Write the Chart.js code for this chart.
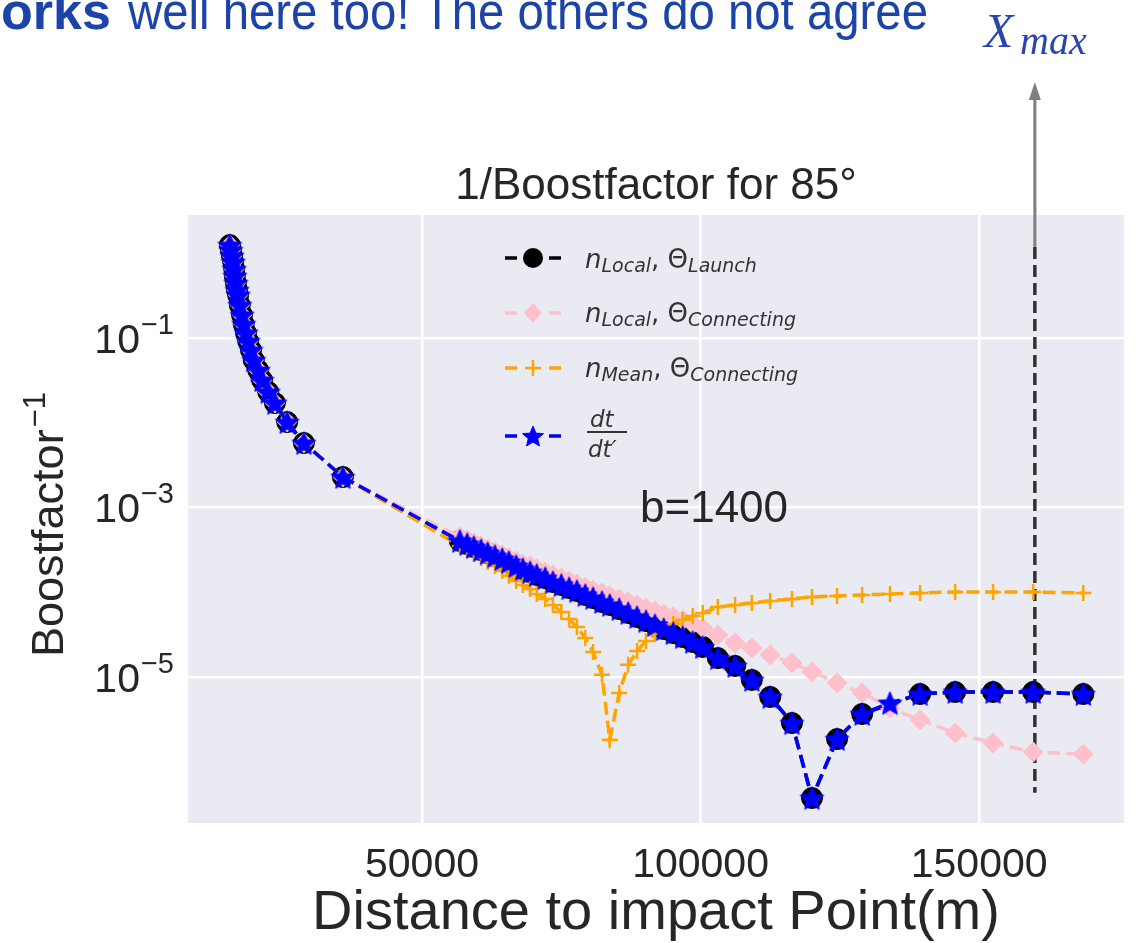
<!DOCTYPE html>
<html>
<head>
<meta charset="utf-8">
<title>1/Boostfactor for 85°</title>
<script src="https://cdn.jsdelivr.net/npm/chart.js@4.4.1/dist/chart.umd.min.js"></script>
<style>
  html, body { margin: 0; padding: 0; background: #fff; }
  #wrap { position: relative; width: 1141px; height: 943px; overflow: hidden; }
</style>
</head>
<body>
<div id="wrap"><canvas id="boost-chart" width="1141" height="943"></canvas></div>
<script>
// Distance to impact point (m), shared by all four curves
var distance = [
    15500, 15700, 15900, 16100, 16300, 16400, 16600, 16800, 17000, 17300, 17700, 18000,
    18400, 18800, 19300, 19800, 20600, 21300, 22400, 23600, 25800, 28800, 35800,
    56800, 58100, 59300, 60600, 61800, 63100, 64400, 65600, 66900, 68100, 69400, 70600,
    72100, 73500, 75000, 76400, 77800, 79300, 80700, 82300, 83700, 85400, 87000, 88600,
    90200, 91800, 93400, 95100, 96800, 98600, 100400,
    103100, 106200, 109200, 112500, 116400, 120000, 124500, 129000, 134000, 139400,
    145700, 152500, 159700, 168700
];

// n_Local, Theta_Launch
var localLaunch = [
    1.25, 1.09, 0.93, 0.79, 0.65, 0.54, 0.445, 0.368, 0.321, 0.245, 0.187, 0.146,
    0.115, 0.092, 0.0722, 0.055, 0.0418, 0.0319, 0.0231, 0.0171, 0.0102, 0.00577, 0.00229,
    4.03e-4, 3.71e-4, 3.42e-4, 3.15e-4, 2.90e-4, 2.68e-4, 2.47e-4, 2.28e-4, 2.04e-4, 1.88e-4,
    1.73e-4, 1.60e-4, 1.47e-4, 1.32e-4, 1.22e-4, 1.12e-4, 1.035e-4, 9.29e-5, 8.55e-5, 7.67e-5,
    7.08e-5, 6.34e-5, 5.69e-5, 5.11e-5, 4.58e-5, 4.11e-5, 3.68e-5, 3.30e-5, 2.96e-5, 2.59e-5,
    2.26e-5,
    1.67e-5, 1.35e-5, 9.23e-6, 5.81e-6, 2.86e-6, 3.73e-7, 1.85e-6, 3.66e-6, null, 6.30e-6,
    6.65e-6, 6.65e-6, 6.65e-6, 6.30e-6
];

// n_Local, Theta_Connecting
var localConnecting = [
    1.25, 1.09, 0.93, 0.79, 0.65, 0.54, 0.445, 0.368, 0.321, 0.245, 0.187, 0.146,
    0.115, 0.092, 0.0722, 0.055, 0.0418, 0.0319, 0.0231, 0.0171, 0.0102, 0.00577, 0.00229,
    4.49e-4, 4.14e-4, 3.81e-4, 3.52e-4, 3.24e-4, 2.99e-4, 2.75e-4, 2.54e-4, 2.34e-4, 2.15e-4,
    2.04e-4, 1.88e-4, 1.73e-4, 1.60e-4, 1.47e-4, 1.36e-4, 1.25e-4, 1.15e-4, 1.06e-4, 9.79e-5,
    9.04e-5, 8.32e-5, 7.67e-5, 7.08e-5, 6.52e-5, 6.01e-5, 5.53e-5, 5.11e-5, 4.71e-5, 4.22e-5,
    3.78e-5,
    3.13e-5, 2.52e-5, 2.20e-5, 1.82e-5, 1.46e-5, 1.15e-5, 8.49e-6, 6.47e-6, 4.31e-6, 3.11e-6,
    2.18e-6, 1.66e-6, 1.30e-6, 1.23e-6
];

// n_Mean, Theta_Connecting
var meanConnecting = [
    1.25, 1.09, 0.93, 0.79, 0.65, 0.54, 0.445, 0.368, 0.321, 0.245, 0.187, 0.146,
    0.115, 0.092, 0.0722, 0.055, 0.0418, 0.0319, 0.0231, 0.0171, 0.0102, 0.00577, 0.00229,
    3.52e-4, 3.15e-4, 2.82e-4, 2.54e-4, 2.28e-4, 2.04e-4, 1.78e-4, 1.56e-4, 1.36e-4, 1.22e-4,
    1.09e-4, 9.53e-5, 8.32e-5, 7.08e-5, 5.85e-5, 4.83e-5, 3.89e-5, 2.88e-5, 1.97e-5, 1.06e-5,
    1.81e-6, 6.47e-6, 1.39e-5, 2.03e-5, 2.66e-5, 3.21e-5, 3.78e-5, 4.22e-5, 4.71e-5, 5.25e-5,
    5.69e-5,
    6.70e-5, 7.08e-5, 7.46e-5, 7.89e-5, 8.32e-5, 8.79e-5, 9.04e-5, 9.29e-5, 9.53e-5, 9.79e-5,
    1.007e-4, 1.007e-4, 1.007e-4, 9.79e-5
];

// dt/dt'
var timeRatio = [
    1.25, 1.09, 0.93, 0.79, 0.65, 0.54, 0.445, 0.368, 0.321, 0.245, 0.187, 0.146,
    0.115, 0.092, 0.0722, 0.055, 0.0418, 0.0319, 0.0231, 0.0171, 0.0102, 0.00577, 0.00229,
    4.03e-4, 3.71e-4, 3.42e-4, 3.15e-4, 2.90e-4, 2.68e-4, 2.47e-4, 2.28e-4, 2.04e-4, 1.88e-4,
    1.73e-4, 1.60e-4, 1.47e-4, 1.32e-4, 1.22e-4, 1.12e-4, 1.035e-4, 9.29e-5, 8.55e-5, 7.67e-5,
    7.08e-5, 6.34e-5, 5.69e-5, 5.11e-5, 4.58e-5, 4.11e-5, 3.68e-5, 3.30e-5, 2.96e-5, 2.59e-5,
    2.26e-5,
    1.67e-5, 1.35e-5, 9.23e-6, 5.81e-6, 2.86e-6, 3.73e-7, 1.85e-6, 3.66e-6, 4.93e-6, 6.30e-6,
    6.65e-6, 6.65e-6, 6.65e-6, 6.30e-6
];

// Xmax marker line
var xmaxDistance = [160000, 160000];
var xmaxSpan = [1.19, 4.3e-7];

var xTickValues = [50000, 100000, 150000];
var xTickLabels = ['50000', '100000', '150000'];
var yTickValues = [1e-1, 1e-3, 1e-5];
var yTickExponents = ['\u22121', '\u22123', '\u22125'];

var TEXT = '#262626';
var SANS = "'Liberation Sans', Arial, sans-serif";
var MATH = "'DejaVu Sans', sans-serif";

function toPoints(xs, ys) {
    return xs.map(function(x, i) { return {x: x, y: ys[i]}; });
}

// filled five point star, used as the dt/dt' marker
function makeStar(r, color) {
    var c = document.createElement('canvas');
    c.width = c.height = Math.ceil(2 * r + 4);
    var g = c.getContext('2d');
    var cx = c.width / 2;
    g.beginPath();
    for (var i = 0; i < 10; i++) {
        var rr = i % 2 ? r * 0.45 : r;
        var a = -Math.PI / 2 + i * Math.PI / 5;
        g.lineTo(cx + rr * Math.cos(a), cx + rr * Math.sin(a) + r * 0.1);
    }
    g.closePath();
    g.fillStyle = color;
    g.fill();
    g.lineWidth = 1;
    g.strokeStyle = color;
    g.stroke();
    return c;
}

var starMarker = makeStar(12.5, '#0000ff');
var starLegend = makeStar(11, '#0000ff');

function drawRuns(ctx, x, y, runs) {
    runs.forEach(function(r) {
        ctx.font = (r.it ? 'italic ' : '') + r.size + 'px ' + MATH;
        ctx.fillText(r.t, x, y + (r.dy || 0));
        x += ctx.measureText(r.t).width + (r.gap || 0);
    });
}

function legendHandle(ctx, y, color, drawMarker) {
    ctx.save();
    ctx.strokeStyle = color;
    ctx.lineWidth = 3.5;
    ctx.beginPath();
    ctx.moveTo(505, y); ctx.lineTo(517, y);
    ctx.moveTo(549, y); ctx.lineTo(561, y);
    ctx.stroke();
    drawMarker(533, y);
    ctx.restore();
}

var decorPlugin = {
    id: 'decor',
    beforeDraw: function(chart) {
        var ctx = chart.ctx, a = chart.chartArea;
        ctx.save();
        ctx.fillStyle = '#ffffff';
        ctx.fillRect(0, 0, chart.width, chart.height);
        ctx.fillStyle = '#EAEAF2';
        ctx.fillRect(a.left, a.top, a.right - a.left, a.bottom - a.top);
        ctx.restore();
    },
    afterDraw: function(chart) {
        var ctx = chart.ctx, a = chart.chartArea;
        var sx = chart.scales.x, sy = chart.scales.y;
        ctx.save();

        // y tick labels as powers of ten
        ctx.fillStyle = TEXT;
        ctx.textAlign = 'left';
        ctx.textBaseline = 'alphabetic';
        yTickValues.forEach(function(v, i) {
            var py = sy.getPixelForValue(v);
            ctx.font = '41px ' + SANS;
            var wBase = ctx.measureText('10').width;
            ctx.font = '29px ' + SANS;
            var wExp = ctx.measureText(yTickExponents[i]).width;
            var x0 = a.left - 15 - wBase - wExp;
            ctx.font = '41px ' + SANS;
            ctx.fillText('10', x0, py + 15);
            ctx.font = '29px ' + SANS;
            ctx.fillText(yTickExponents[i], x0 + wBase + 1, py - 4);
        });

        // y axis title
        ctx.save();
        ctx.translate(63, 657);
        ctx.rotate(-Math.PI / 2);
        ctx.font = '45px ' + SANS;
        ctx.fillText('Boostfactor', 0, 0);
        var wt = ctx.measureText('Boostfactor').width;
        ctx.font = '31px ' + SANS;
        ctx.fillText('\u22121', wt + 2, -18);
        ctx.restore();

        // plot title
        ctx.font = '44px ' + SANS;
        ctx.textAlign = 'center';
        ctx.textBaseline = 'middle';
        ctx.fillText('1/Boostfactor for 85\u00B0', (a.left + a.right) / 2, 187);

        // annotation
        ctx.textAlign = 'left';
        ctx.fillText('b=1400', 640, 510);

        // legend
        ctx.textBaseline = 'alphabetic';
        legendHandle(ctx, 258, '#000', function(x, y) {
            ctx.fillStyle = '#000';
            ctx.beginPath(); ctx.arc(x, y, 10, 0, Math.PI * 2); ctx.fill();
        });
        legendHandle(ctx, 313, '#FFC0CB', function(x, y) {
            ctx.fillStyle = '#FFC0CB';
            ctx.beginPath();
            ctx.moveTo(x, y - 10); ctx.lineTo(x + 9, y); ctx.lineTo(x, y + 10); ctx.lineTo(x - 9, y);
            ctx.closePath(); ctx.fill();
        });
        legendHandle(ctx, 368, '#FFA500', function(x, y) {
            ctx.strokeStyle = '#FFA500';
            ctx.lineWidth = 2.5;
            ctx.beginPath();
            ctx.moveTo(x - 8, y); ctx.lineTo(x + 8, y);
            ctx.moveTo(x, y - 8); ctx.lineTo(x, y + 8);
            ctx.stroke();
        });
        legendHandle(ctx, 436, '#0000ff', function(x, y) {
            ctx.drawImage(starLegend, x - starLegend.width / 2, y - starLegend.height / 2);
        });

        ctx.fillStyle = '#333';
        drawRuns(ctx, 585, 268, [
            {t: 'n', it: true, size: 26},
            {t: 'Local', it: true, size: 19, dy: 4},
            {t: ', ', size: 26},
            {t: '\u0398', size: 26},
            {t: 'Launch', it: true, size: 19, dy: 4}
        ]);
        drawRuns(ctx, 585, 322, [
            {t: 'n', it: true, size: 26},
            {t: 'Local', it: true, size: 19, dy: 4},
            {t: ', ', size: 26},
            {t: '\u0398', size: 26},
            {t: 'Connecting', it: true, size: 19, dy: 4}
        ]);
        drawRuns(ctx, 585, 377, [
            {t: 'n', it: true, size: 26},
            {t: 'Mean', it: true, size: 19, dy: 4},
            {t: ', ', size: 26},
            {t: '\u0398', size: 26},
            {t: 'Connecting', it: true, size: 19, dy: 4}
        ]);
        ctx.font = 'italic 23px ' + MATH;
        ctx.fillText('dt', 590, 427);
        ctx.fillText('dt\u2032', 588, 457);
        ctx.fillRect(587, 431, 40, 2);

        // arrow up from the Xmax line
        var ax = sx.getPixelForValue(xmaxDistance[0]);
        var ay = sy.getPixelForValue(xmaxSpan[0]);
        ctx.strokeStyle = '#7f7f7f';
        ctx.fillStyle = '#7f7f7f';
        ctx.lineWidth = 3;
        ctx.beginPath();
        ctx.moveTo(ax, ay);
        ctx.lineTo(ax, 98);
        ctx.stroke();
        ctx.beginPath();
        ctx.moveTo(ax, 82); ctx.lineTo(ax + 6, 100); ctx.lineTo(ax - 6, 100);
        ctx.closePath(); ctx.fill();

        // Xmax label
        ctx.fillStyle = '#2a45b0';
        ctx.font = "italic 48px 'Liberation Serif', serif";
        ctx.fillText('X', 984, 47);
        ctx.font = "italic 40px 'Liberation Serif', serif";
        ctx.fillText('max', 1020, 54);

        // slide text, cut by the top edge
        ctx.fillStyle = '#1c44a8';
        ctx.font = "bold 52px " + SANS;
        ctx.fillText('orks', 1, 29, 114);
        ctx.font = "52px " + SANS;
        ctx.fillText('well here too! The others do not agree', 128, 29, 800);

        ctx.restore();
    }
};

function series(label, ys, color, extra) {
    var ds = {
        label: label,
        data: toPoints(distance, ys),
        borderColor: color,
        backgroundColor: color,
        pointBorderColor: color,
        pointBackgroundColor: color,
        borderWidth: 3.5,
        borderDash: [13, 6],
        tension: 0,
        fill: false,
        spanGaps: true
    };
    Object.keys(extra).forEach(function(k) { ds[k] = extra[k]; });
    return ds;
}

Chart.defaults.font.family = SANS;
Chart.defaults.color = TEXT;

var ctx = document.getElementById('boost-chart');
new Chart(ctx, {
    type: 'line',
    data: {
        datasets: [
            series('n_Local, \u0398_Launch', localLaunch, '#000000', {
                pointStyle: 'circle', pointRadius: 10.5, pointBorderWidth: 1, order: 4
            }),
            series('n_Local, \u0398_Connecting', localConnecting, '#FFC0CB', {
                pointStyle: 'rectRot', pointRadius: 10, pointBorderWidth: 1, order: 3
            }),
            series('n_Mean, \u0398_Connecting', meanConnecting, '#FFA500', {
                pointStyle: 'cross', pointRadius: 8, pointBorderWidth: 2.5, order: 2
            }),
            series("dt/dt'", timeRatio, '#0000ff', {
                pointStyle: starMarker, order: 1
            }),
            {
                label: 'Xmax',
                data: toPoints(xmaxDistance, xmaxSpan),
                borderColor: '#333333',
                borderWidth: 3.5,
                borderDash: [12, 6],
                pointRadius: 0,
                order: 5
            }
        ]
    },
    options: {
        responsive: false,
        animation: false,
        events: [],
        layout: { padding: { top: 215, right: 17, left: 0, bottom: 0 } },
        plugins: {
            legend: { display: false },
            tooltip: { enabled: false },
            title: { display: false }
        },
        scales: {
            x: {
                type: 'linear',
                bounds: 'data',
                min: 8000,
                max: 176000,
                border: { display: false },
                grid: { color: '#ffffff', lineWidth: 2.5, drawTicks: false },
                ticks: {
                    font: { size: 41 },
                    color: TEXT,
                    padding: 18,
                    maxRotation: 0,
                    callback: function(v, i) { return xTickLabels[i]; }
                },
                afterBuildTicks: function(s) {
                    s.ticks = xTickValues.map(function(v) { return {value: v}; });
                },
                afterFit: function(s) { s.height = 120; },
                title: {
                    display: true,
                    text: 'Distance to impact Point(m)',
                    font: { size: 56, lineHeight: 1.05 },
                    color: TEXT,
                    padding: { top: 0, bottom: 0 }
                }
            },
            y: {
                type: 'logarithmic',
                bounds: 'data',
                min: 1.89e-7,
                max: 2.83,
                border: { display: false },
                grid: { color: '#ffffff', lineWidth: 2.5, drawTicks: false },
                ticks: { display: false },
                afterBuildTicks: function(s) {
                    s.ticks = yTickValues.map(function(v) { return {value: v}; });
                },
                afterFit: function(s) { s.width = 188; }
            }
        }
    },
    plugins: [decorPlugin]
});
</script>
</body>
</html>
